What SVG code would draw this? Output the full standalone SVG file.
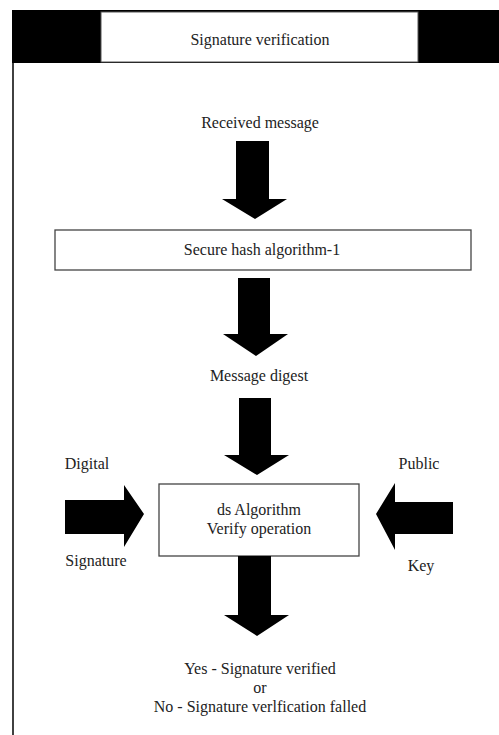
<svg xmlns="http://www.w3.org/2000/svg" width="499" height="735" viewBox="0 0 499 735">
<style>
text{font-family:"Liberation Serif","DejaVu Serif","Times New Roman",serif;font-size:16px;fill:#222;text-anchor:middle}
.box{fill:#fff;stroke:#444;stroke-width:1.3}
.arr{fill:#000}
</style>
<rect x="0" y="0" width="499" height="735" fill="#fff"/>
<g id="frame">
<rect x="12" y="10" width="487" height="53" fill="#000"/>
<line x1="13" y1="63" x2="13" y2="735" stroke="#111" stroke-width="1.6"/>
</g>
<g id="title">
<rect x="101" y="12" width="317" height="50" fill="#fff" stroke="#555" stroke-width="1"/>
<text x="260" y="45">Signature verification</text>
</g>
<g id="received">
<text x="260" y="128">Received message</text>
</g>
<g id="sha">
<rect class="box" x="55" y="230" width="416" height="40"/>
<text x="262" y="255">Secure hash algorithm-1</text>
</g>
<g id="digest">
<text x="259" y="381">Message digest</text>
</g>
<g id="ds">
<rect class="box" x="159" y="484" width="200" height="72"/>
<text x="259" y="515">ds Algorithm</text>
<text x="259" y="534">Verify operation</text>
</g>
<g id="digsig">
<text x="87" y="469">Digital</text>
<text x="96" y="566">Signature</text>
</g>
<g id="pubkey">
<text x="419" y="469">Public</text>
<text x="421" y="571">Key</text>
</g>
<g id="result">
<text x="260" y="674">Yes - Signature verified</text>
<text x="260" y="693">or</text>
<text x="260" y="712">No - Signature verlfication falled</text>
</g>
<g id="connectors">
<polygon class="arr" points="236,141 269,141 269,199 287,199 255,219 222,199 236,199"/>
<polygon class="arr" points="238,278 270,278 270,334 288,334 256,356 223,334 238,334"/>
<polygon class="arr" points="239,398 271,398 271,455 289,455 257,475 224,455 239,455"/>
<polygon class="arr" points="238,556 271,556 271,615 289,615 257,636 224,615 238,615"/>
<polygon class="arr" points="65,500 124,500 124,485 144,514 124,547 124,534 65,534"/>
<polygon class="arr" points="453,502 395,502 395,483 376,514 395,550 395,534 453,534"/>
</g>
</svg>
